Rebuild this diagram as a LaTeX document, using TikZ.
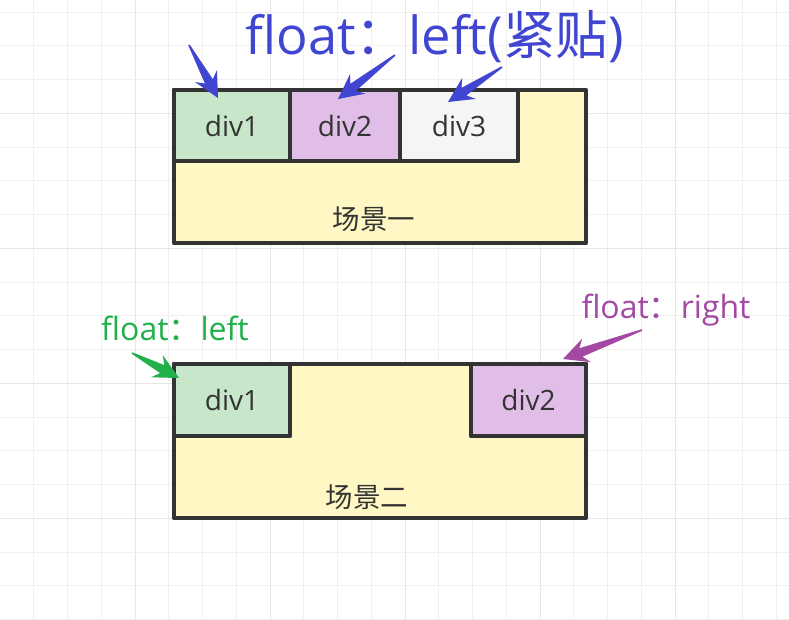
\documentclass[tikz,border=0pt]{standalone}
\usepackage{fontspec}
\setmainfont{Open Sans}
\newfontfamily\cjk{Noto Sans CJK SC}
\usetikzlibrary{calc}
\definecolor{ink}{HTML}{333333}
\definecolor{paper}{HTML}{FFF8C4}
\definecolor{greenfill}{HTML}{C8E6C9}
\definecolor{purplefill}{HTML}{E1BEE7}
\definecolor{greyfill}{HTML}{F5F5F5}
\definecolor{blueink}{HTML}{4046D2}
\definecolor{greenink}{HTML}{22B04B}
\definecolor{purpleink}{HTML}{A349A4}
\definecolor{gridminor}{HTML}{F0F0F0}
\definecolor{gridmajor}{HTML}{E6E6E6}
\newcommand\fatarrow[3]{%
  \fill[#1] ($(#2)!0.8pt!90:(#3)$) -- ($(#3)!19pt!(#2)!4.5pt!-90:(#2)$)
    -- ($(#3)!25pt!(#2)!12.5pt!-90:(#2)$) -- (#3)
    -- ($(#3)!25pt!(#2)!12.5pt!90:(#2)$) -- ($(#3)!19pt!(#2)!4.5pt!90:(#2)$)
    -- ($(#2)!0.8pt!-90:(#3)$) -- cycle;}
\tikzset{
  boxline/.style={draw=ink, line width=4.5pt, line join=round, inner sep=0pt, outer sep=0pt, rectangle},
  divlabel/.style={text=ink, font=\fontsize{28}{32}\selectfont},
  scenelabel/.style={text=ink, font=\cjk\fontsize{27.5}{32}\selectfont, inner sep=0pt},
}
\begin{document}
\begin{tikzpicture}[x=1pt,y=-1pt]
\fill[white] (0,0) rectangle (789,619);
\useasboundingbox (0,0) rectangle (789,619);
% grid
\foreach \i in {1,...,23}{
  \pgfmathtruncatemacro\m{mod(\i,4)}
  \ifnum\m=0 \draw[gridmajor,line width=1pt] (\i*33.75,0) -- (\i*33.75,619);
  \else \draw[gridminor,line width=1pt] (\i*33.75,0) -- (\i*33.75,619); \fi}
\foreach \j in {0,...,18}{
  \pgfmathtruncatemacro\m{mod(\j,4)}
  \ifnum\m=3 \draw[gridmajor,line width=1pt] (0,12+\j*33.75) -- (789,12+\j*33.75);
  \else \draw[gridminor,line width=1pt] (0,12+\j*33.75) -- (789,12+\j*33.75); \fi}

% scene 1
\draw[boxline, fill=paper] (174,90) rectangle (586,243);
\node[scenelabel] (s1) at (374,219) {场景一};
\node[boxline, fill=greenfill, minimum width=116pt, minimum height=71pt, anchor=north west, divlabel] (d11) at (174,90) {div1};
\node[boxline, fill=purplefill, minimum width=110pt, minimum height=71pt, anchor=north west, divlabel] (d12) at (290,90) {div2};
\node[boxline, fill=greyfill, minimum width=118pt, minimum height=71pt, anchor=north west, divlabel] (d13) at (400,90) {div3};

% title and arrows
\node[text=blueink, font=\fontsize{52.5}{60}\selectfont, anchor=base, inner sep=0pt] (title) at (434.5,54) {float{\cjk ：}left({\cjk 紧贴})};
\coordinate (a1s) at (189,45);  \coordinate (a1t) at (218,98);
\coordinate (a2s) at (395,55);  \coordinate (a2t) at (338,99);
\coordinate (a3s) at (502,67);  \coordinate (a3t) at (448,102);
\fatarrow{blueink}{a1s}{a1t}
\fatarrow{blueink}{a2s}{a2t}
\fatarrow{blueink}{a3s}{a3t}

% scene 2
\draw[boxline, fill=paper] (174,364) rectangle (586,518);
\node[scenelabel] (s2) at (367,497) {场景二};
\node[boxline, fill=greenfill, minimum width=116pt, minimum height=72pt, anchor=north west, divlabel] (d21) at (174,364) {div1};
\node[boxline, fill=purplefill, minimum width=115pt, minimum height=72pt, anchor=north west, divlabel] (d22) at (471,364) {div2};

\node[text=greenink, font=\fontsize{32}{36}\selectfont, anchor=base, inner sep=0pt] (lbl) at (175,340) {float{\cjk ：}left};
\node[text=purpleink, font=\fontsize{32}{36}\selectfont, anchor=base, inner sep=0pt] (lbr) at (666,318) {float{\cjk ：}right};
\coordinate (a4s) at (132,353); \coordinate (a4t) at (179,378);
\coordinate (a5s) at (642,330); \coordinate (a5t) at (563,359);
\fatarrow{greenink}{a4s}{a4t}
\fatarrow{purpleink}{a5s}{a5t}
\end{tikzpicture}
\end{document}
